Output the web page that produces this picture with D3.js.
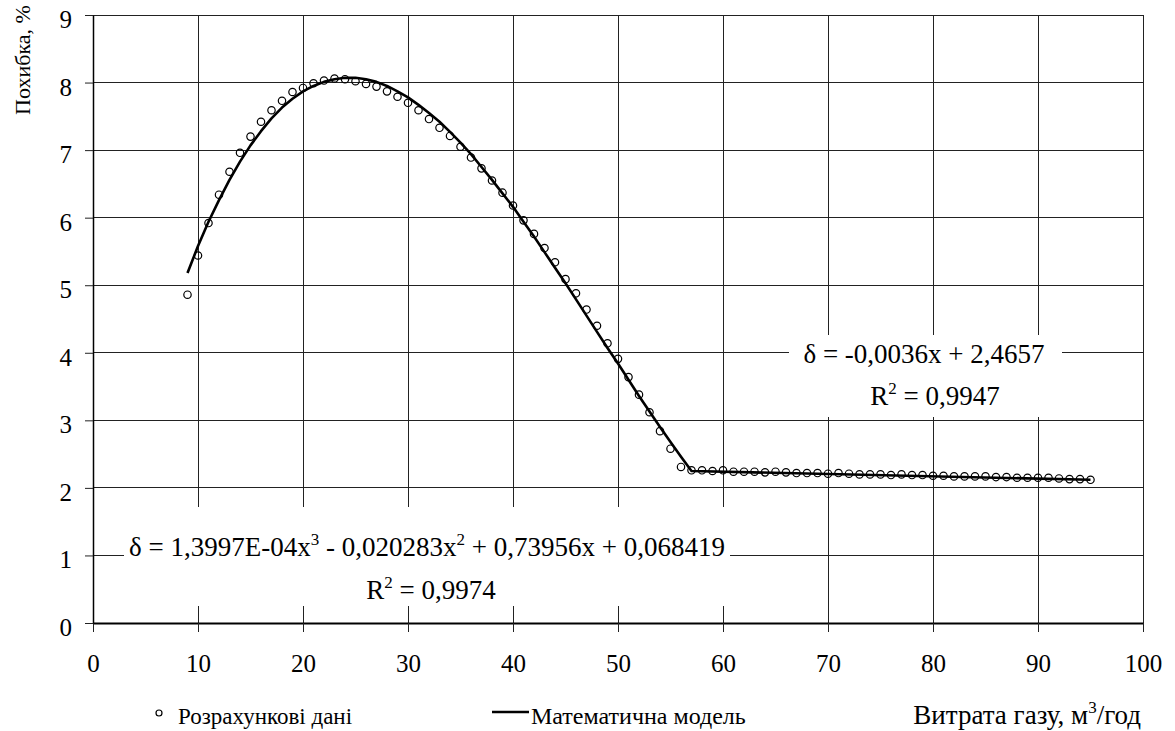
<!DOCTYPE html>
<html>
<head>
<meta charset="utf-8">
<script src="https://cdnjs.cloudflare.com/ajax/libs/d3/7.8.5/d3.min.js"></script>
<style>
  body { margin: 0; background: #fff; }
  text { font-family: "Liberation Serif", "Times New Roman", serif; fill: #000; }
</style>
</head>
<body>
<svg id="chart" width="1175" height="731"></svg>
<script>
// tick labels
const xTicks = [0, 10, 20, 30, 40, 50, 60, 70, 80, 90, 100];
const yTicks = [0, 1, 2, 3, 4, 5, 6, 7, 8, 9];

// "Розрахункові дані" – calculated points
const calcX = [9, 10, 11, 12, 13, 14, 15, 16, 17, 18, 19, 20, 21, 22, 23, 24, 25, 26, 27, 28,
  29, 30, 31, 32, 33, 34, 35, 36, 37, 38, 39, 40, 41, 42, 43, 44, 45, 46, 47, 48,
  49, 50, 51, 52, 53, 54, 55, 56, 57, 58, 59, 60, 61, 62, 63, 64, 65, 66, 67, 68,
  69, 70, 71, 72, 73, 74, 75, 76, 77, 78, 79, 80, 81, 82, 83, 84, 85, 86, 87, 88,
  89, 90, 91, 92, 93, 94, 95];
const calcY = [4.86, 5.44, 5.92, 6.34, 6.68, 6.96, 7.20, 7.42, 7.59, 7.73, 7.86, 7.92, 7.99, 8.03, 8.06, 8.05, 8.02, 7.98, 7.94, 7.87,
  7.79, 7.70, 7.59, 7.46, 7.33, 7.21, 7.05, 6.89, 6.73, 6.55, 6.37, 6.18, 5.96, 5.76, 5.55, 5.34, 5.09, 4.88, 4.64, 4.40,
  4.14, 3.91, 3.64, 3.38, 3.12, 2.84, 2.58, 2.31, 2.26, 2.26, 2.25, 2.26, 2.24, 2.24, 2.24, 2.23, 2.24, 2.23, 2.22, 2.22,
  2.22, 2.21, 2.22, 2.21, 2.20, 2.20, 2.20, 2.19, 2.20, 2.19, 2.19, 2.18, 2.18, 2.17, 2.17, 2.17, 2.17, 2.16, 2.16, 2.15,
  2.15, 2.15, 2.15, 2.14, 2.13, 2.13, 2.12];

// "Математична модель" – model line
const modelX = [9, 10, 11, 12, 13, 14, 15, 16, 17, 18, 19, 20, 21, 22, 23, 24, 25, 26, 27, 28,
  29, 30, 31, 32, 33, 34, 35, 36, 37, 38, 39, 40, 41, 42, 43, 44, 45, 46, 47, 48,
  49, 50, 51, 52, 53, 54, 55, 56, 57, 95];
const modelY = [5.18, 5.58, 5.94, 6.26, 6.56, 6.83, 7.07, 7.28, 7.47, 7.63, 7.76, 7.87, 7.95, 8.01, 8.05, 8.07, 8.07, 8.05, 8.01, 7.95,
  7.87, 7.78, 7.67, 7.55, 7.42, 7.27, 7.11, 6.94, 6.75, 6.56, 6.36, 6.16, 5.94, 5.72, 5.49, 5.26, 5.03, 4.79, 4.55, 4.31,
  4.07, 3.84, 3.60, 3.36, 3.13, 2.90, 2.68, 2.46, 2.25, 2.12];

const svg = d3.select("#chart");
const fs = 25;

const x = d3.scaleLinear().domain([0, 100]).range([93, 1143]);
const y = d3.scaleLinear().domain([0, 9]).range([623, 15]);

// grid
const grid = svg.append("g").attr("stroke", "#222").attr("stroke-width", 1).attr("shape-rendering", "crispEdges");
grid.selectAll(".gx").data(xTicks.slice(1)).enter().append("line")
  .attr("x1", d => x(d)).attr("x2", d => x(d)).attr("y1", y(9)).attr("y2", y(0));
grid.selectAll(".gy").data(yTicks.slice(1)).enter().append("line")
  .attr("x1", x(0)).attr("x2", x(100)).attr("y1", d => y(d)).attr("y2", d => y(d));

// white boxes behind the trend labels
svg.append("rect").attr("x", 789).attr("y", 335).attr("width", 273).attr("height", 82).attr("fill", "#fff");
svg.append("rect").attr("x", 124).attr("y", 507).attr("width", 606).attr("height", 99).attr("fill", "#fff");

// axes
const xAxis = d3.axisBottom(x).tickValues(xTicks).tickSize(9).tickSizeOuter(0).tickPadding(22).tickFormat(d3.format("d"));
const gx = svg.append("g").attr("transform", `translate(0,${y(0)})`).call(xAxis);
gx.select(".domain").attr("stroke", "#000").attr("stroke-width", 2);
gx.selectAll(".tick line").attr("stroke", "#222");
gx.selectAll(".tick text").attr("font-size", fs).attr("font-family", "Liberation Serif");

const yAxis = d3.axisLeft(y).tickValues(yTicks).tickSize(8).tickSizeOuter(0).tickPadding(13).tickFormat(d3.format("d"));
const gy = svg.append("g").attr("transform", `translate(${x(0)},0)`).call(yAxis);
gy.select(".domain").attr("stroke", "#000").attr("stroke-width", 1.5);
gy.selectAll(".tick line").attr("stroke", "#222");
gy.selectAll(".tick text").attr("font-size", fs).attr("font-family", "Liberation Serif").attr("dy", "0.5em");

// model line
const line = d3.line().x(d => x(d[0])).y(d => y(d[1]));
svg.append("path")
  .datum(modelX.map((v, i) => [v, modelY[i]]))
  .attr("d", line)
  .attr("fill", "none").attr("stroke", "#000").attr("stroke-width", 2.6)
  .attr("stroke-linejoin", "round");

// calculated points
svg.append("g").selectAll("circle")
  .data(calcX.map((v, i) => [v, calcY[i]]))
  .enter().append("circle")
  .attr("cx", d => x(d[0])).attr("cy", d => y(d[1])).attr("r", 3.7)
  .attr("fill", "none").attr("stroke", "#000").attr("stroke-width", 1.2);

// y title
svg.append("text")
  .attr("transform", "translate(30,60) rotate(-90)")
  .attr("text-anchor", "middle").attr("font-size", 22)
  .text("Похибка, %");

// text with superscripts, parts: plain strings or {up: "2"}
function supText(g, xPos, yPos, parts, size, anchor) {
  const t = g.append("text").attr("x", xPos).attr("y", yPos)
    .attr("text-anchor", anchor || "middle").attr("font-size", size);
  let shift = 0;
  parts.forEach(p => {
    if (typeof p === "string") {
      t.append("tspan").attr("dy", shift).text(p);
      shift = 0;
    } else {
      t.append("tspan").attr("dy", -11).attr("font-size", Math.round(size * 0.64)).text(p.up);
      shift = 11;
    }
  });
  return t;
}
const labels = svg.append("g");
const eqSize = 27;
supText(labels, 924, 363, ["δ = -0,0036x + 2,4657"], eqSize);
supText(labels, 935, 405, ["R", { up: "2" }, " = 0,9947"], eqSize);
supText(labels, 427, 556, ["δ = 1,3997E-04x", { up: "3" }, " - 0,020283x", { up: "2" }, " + 0,73956x + 0,068419"], eqSize);
supText(labels, 431, 599, ["R", { up: "2" }, " = 0,9974"], eqSize);

// legend
const leg = svg.append("g");
leg.append("circle").attr("cx", 159).attr("cy", 713).attr("r", 3)
  .attr("fill", "none").attr("stroke", "#000").attr("stroke-width", 1.2);
leg.append("text").attr("x", 178).attr("y", 724).attr("font-size", 23).text("Розрахункові дані");
leg.append("line").attr("x1", 492).attr("x2", 529).attr("y1", 712).attr("y2", 712)
  .attr("stroke", "#000").attr("stroke-width", 2.6);
leg.append("text").attr("x", 531).attr("y", 724).attr("font-size", 24).text("Математична модель");

supText(svg, 1141, 724, ["Витрата газу, м", { up: "3" }, "/год"], 27, "end");
</script>
</body>
</html>
